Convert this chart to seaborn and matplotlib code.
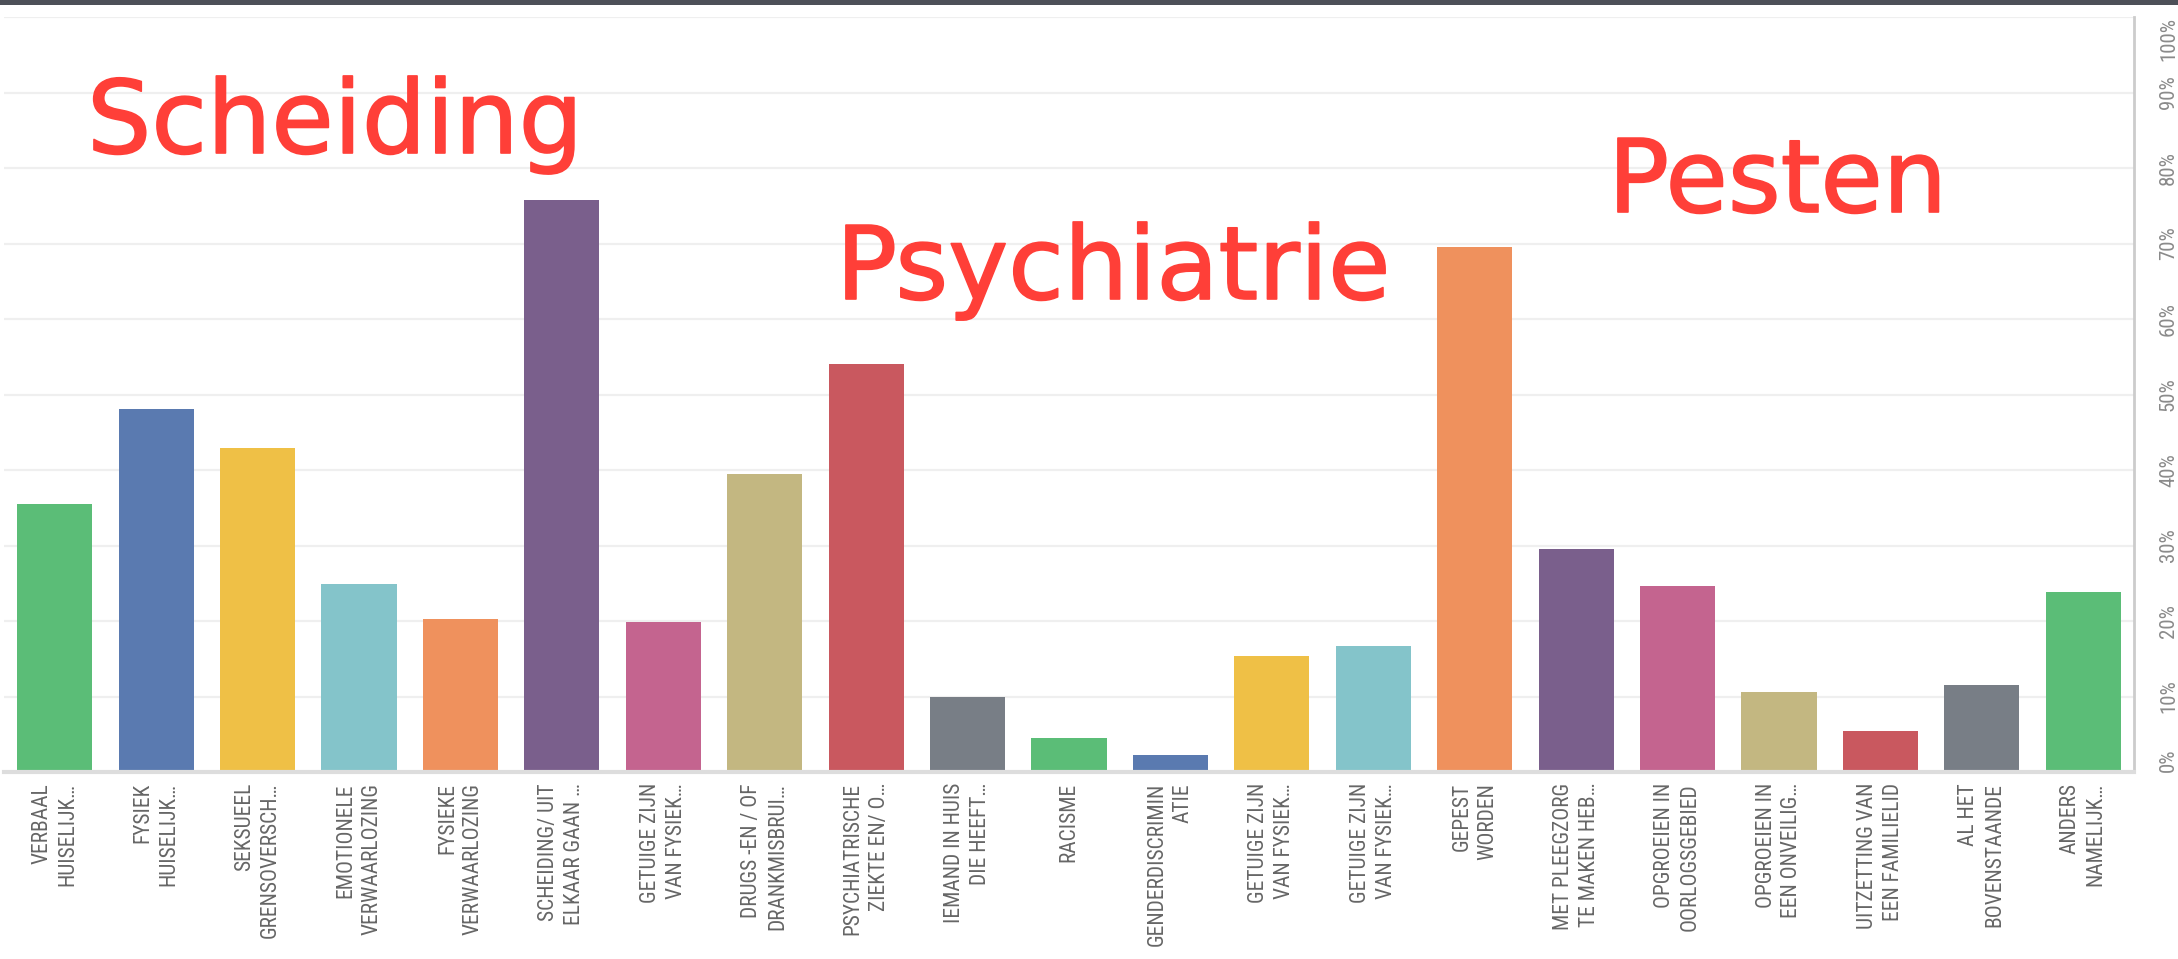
import matplotlib
matplotlib.use("Agg")
import matplotlib.pyplot as plt
import matplotlib.patheffects as pe
import seaborn as sns
import numpy as np
import pandas as pd
from matplotlib.ticker import PercentFormatter
from matplotlib.patches import Rectangle
from matplotlib import font_manager

# ---- data ----
categories = [
    "VERBAAL\nHUISELIJK…", "FYSIEK\nHUISELIJK…", "SEKSUEEL\nGRENSOVERSCH…",
    "EMOTIONELE\nVERWAARLOZING", "FYSIEKE\nVERWAARLOZING", "SCHEIDING/ UIT\nELKAAR GAAN …",
    "GETUIGE ZIJN\nVAN FYSIEK…", "DRUGS -EN / OF\nDRANKMISBRUI…", "PSYCHIATRISCHE\nZIEKTE EN/ O…",
    "IEMAND IN HUIS\nDIE HEEFT…", "RACISME", "GENDERDISCRIMIN\nATIE",
    "GETUIGE ZIJN\nVAN FYSIEK…", "GETUIGE ZIJN\nVAN FYSIEK…", "GEPEST\nWORDEN",
    "MET PLEEGZORG\nTE MAKEN HEB…", "OPGROEIEN IN\nOORLOGSGEBIED", "OPGROEIEN IN\nEEN ONVEILIG…",
    "UITZETTING VAN\nEEN FAMILIELID", "AL HET\nBOVENSTAANDE", "ANDERS\nNAMELIJK…",
]
values = [35.5, 48.1, 42.9, 24.9, 20.3, 75.7, 19.9, 39.5, 54.0, 10.0, 4.5,
          2.3, 15.4, 16.7, 69.5, 29.5, 24.7, 10.6, 5.4, 11.5, 23.9]
palette10 = ["#5BBD77", "#5A7AB0", "#EFC046", "#84C4CA", "#EF915D",
             "#7A5F8C", "#C4648F", "#C3B781", "#C9585F", "#787E86"]
y_ticks = list(range(0, 101, 10))
annotations = [("Scheiding", 87, 153), ("Psychiatrie", 836, 299), ("Pesten", 1608, 212)]

# pick a narrow font if present
installed = {f.name for f in font_manager.fontManager.ttflist}
label_family = [f for f in ["Liberation Sans Narrow", "Roboto Condensed", "Roboto", "DejaVu Sans"]
                if f in installed] or ["DejaVu Sans"]
narrow = label_family[0] in ("Liberation Sans Narrow", "Roboto Condensed")
xlab_size = 15.5 if narrow else 12
ylab_size = 15 if narrow else 12.5

# ---- figure ----
W, H = 2178, 959
fig = plt.figure(figsize=(W / 100, H / 100), dpi=100)
fig.patch.set_facecolor("white")
plt.rcParams['font.family'] = label_family + ["DejaVu Sans"]

ax = fig.add_axes([4 / W, (H - 772) / H, (2134 - 4) / W, (772 - 17) / H])

df = pd.DataFrame({"idx": list(range(len(values))), "value": values})
colors = [palette10[i % 10] for i in range(len(values))]
sns.barplot(data=df, x="idx", y="value", hue="idx", palette=colors, legend=False,
            width=0.74, saturation=1, ax=ax)

ax.set_ylim(0, 100)
ax.set_xlim(-0.5, len(values) - 0.5)
ax.set_xlabel("")
ax.set_ylabel("")

# grid
ax.set_axisbelow(True)
ax.yaxis.grid(True, color="#efefef", linewidth=1.6)
ax.xaxis.grid(False)

# spines
for s in ["left", "top"]:
    ax.spines[s].set_visible(False)
ax.spines["bottom"].set_color("#dddddd")
ax.spines["bottom"].set_linewidth(3)
ax.spines["right"].set_color("#cccccc")
ax.spines["right"].set_linewidth(2)

# y axis on right
ax.yaxis.tick_right()
ax.set_yticks(y_ticks)
ax.yaxis.set_major_formatter(PercentFormatter(decimals=0))
ax.tick_params(axis="y", length=0, pad=18, labelsize=ylab_size, labelcolor="#8a8a8a")
ylabels = ax.get_yticklabels()
for i, t in enumerate(ylabels):
    t.set_rotation(90)
    t.set_va("center")
    if i == 0:
        t.set_va("bottom")
    if i == len(ylabels) - 1:
        t.set_va("top")

# x labels
ax.set_xticks(range(len(values)))
ax.set_xticklabels(categories, rotation=90, ha="center", va="top",
                   multialignment="right", fontsize=xlab_size, color="#666666",
                   linespacing=1.3)
ax.tick_params(axis="x", length=0, pad=8)

# top dark strip (screenshot edge)
fig.patches.append(Rectangle((0, 1 - 5 / H), 1, 5 / H, transform=fig.transFigure,
                             facecolor="#4d5058", edgecolor="none", zorder=10))

# handwritten annotations
for txt, x, y in annotations:
    fig.text(x / W, 1 - y / H, txt, color="#ff3f38", fontsize=73,
             fontfamily="DejaVu Sans", ha="left", va="baseline",
             path_effects=[pe.withStroke(linewidth=1.2, foreground="#ff3f38")])

fig.savefig("out.png", dpi=100)
